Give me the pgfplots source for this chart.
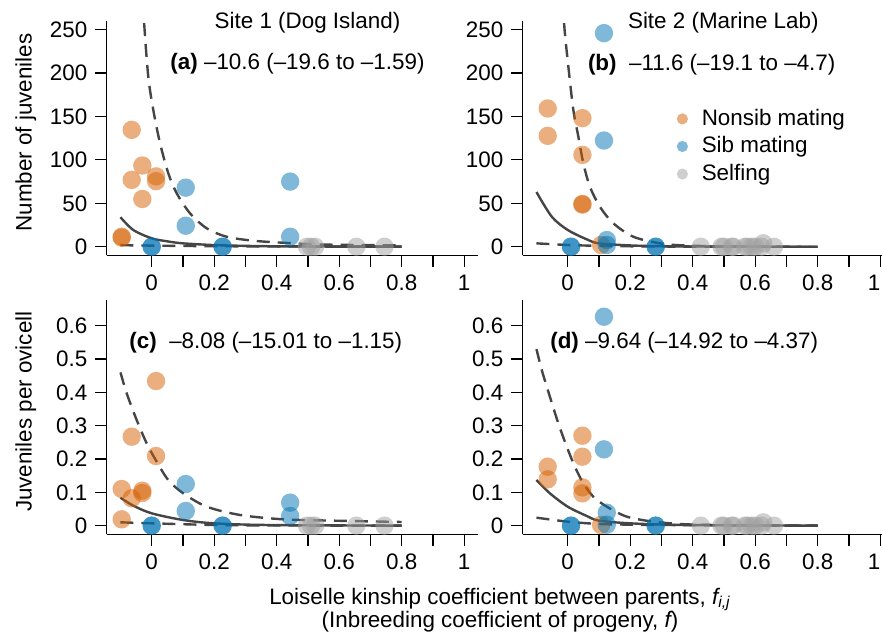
\documentclass[border=0pt]{standalone}
\usepackage{pgfplots}
\pgfplotsset{compat=1.18}
\usepackage{fontspec}
\setmainfont{Liberation Sans}
\definecolor{cNon}{HTML}{D55E00}
\definecolor{cSib}{HTML}{0072B2}
\definecolor{cSelf}{HTML}{A0A0A0}
\definecolor{cLine}{HTML}{454545}
\newcommand{\fs}{\fontsize{11.2}{13.4}\selectfont}
\pgfplotsset{
  rpanel/.style={
    scale only axis, width=185.625pt, xmin=-0.144, xmax=1.044,
    axis x line*=bottom, axis y line*=left,
    axis line style={line width=0.6pt,-},
    tick style={line width=0.6pt, black},
    minor tick style={line width=0.6pt, black},
    tick align=outside, major tick length=5.8pt, minor tick length=5.8pt,
    xtick={0,0.2,0.4,0.6,0.8,1}, minor xtick={0.1,0.3,0.5,0.7,0.9},
    /pgf/number format/assume math mode=true,
    tick label style={font=\fs},
    anchor=south west, clip=true,
  },
  rightcol/.style={xticklabels={0,0.2,0.4,0.6,0.8,\makebox[0pt][r]{1}}},
  toprow/.style={height=117.05pt, ymin=-10, ymax=259.6, ytick={0,50,100,150,200,250}},
  botrow/.style={height=116.95pt, ymin=-0.026, ymax=0.676, ytick={0,0.1,0.2,0.3,0.4,0.5,0.6}},
  pts/.style={only marks, mark=*, mark size=4.6pt, color=#1, mark options={fill=#1, draw opacity=0, fill opacity=0.5}},
  fitl/.style={cLine, line width=1.2pt, smooth, no marks},
  cil/.style={cLine, line width=1.2pt, dash pattern=on 6.5pt off 4pt, smooth, no marks},
}
\begin{document}
\fs
\begin{tikzpicture}
% ---------------- panel (a)
\begin{axis}[rpanel, toprow, at={(53.35pt,-127.7pt)}]
\addplot[pts=cNon, forget plot] coordinates {(-0.096,10.5) (-0.096,11.5) (-0.064,134.6) (-0.064,77) (-0.030,93.5) (-0.030,55) (0.014,81) (0.014,75.5)};
\addplot[pts=cSib, forget plot] coordinates {(0,0) (0,0) (0.227,0) (0.227,0) (0.109,68) (0.109,24.2) (0.443,75) (0.443,11.5)};
\addplot[pts=cSelf, forget plot] coordinates {(0.497,0) (0.51,0) (0.523,0) (0.655,0) (0.745,0)};
\addplot[cil] coordinates {(-0.035,330) (-0.0246,260) (-0.011,196) (0.005,157.7) (0.0266,119.3) (0.053,84.7) (0.08,61.6) (0.1226,38.5) (0.176,21.2) (0.24,11.5) (0.325,6.9) (0.421,4.6) (0.528,2.7) (0.65,2.0) (0.8,1.6)};
\addplot[fitl] coordinates {(-0.1,34) (-0.059,19.3) (0,9.7) (0.05,6.2) (0.1,3.9) (0.2,1.9) (0.3,1.0) (0.4,0.5) (0.6,0.15) (0.8,0.05)};
\addplot[cil] coordinates {(-0.1,1.8) (0,1.3) (0.1,0.9) (0.2,0.6) (0.4,0.3) (0.6,0.1) (0.8,0.05)};
\end{axis}
% ---------------- panel (b)
\begin{axis}[rpanel, rightcol, toprow, at={(261.35pt,-127.7pt)},
  legend style={draw=none, fill=none, at={(0.414,0.631)}, anchor=north west, inner sep=0pt, row sep=3pt, font=\fs, nodes={inner sep=0.5pt}},
  legend cell align=left]
\addlegendimage{legend image code/.code={\fill[draw=none, fill=cNon, fill opacity=0.5] (2.8pt,0pt) circle (2.8pt); \path[draw=none, fill=none] (0pt,-1pt) rectangle (12pt,1pt);}}
\addlegendentry{Nonsib mating}
\addlegendimage{legend image code/.code={\fill[draw=none, fill=cSib, fill opacity=0.5] (2.8pt,0pt) circle (2.8pt); \path[draw=none, fill=none] (0pt,-1pt) rectangle (12pt,1pt);}}
\addlegendentry{Sib mating}
\addlegendimage{legend image code/.code={\fill[draw=none, fill=cSelf, fill opacity=0.5] (2.8pt,0pt) circle (2.8pt); \path[draw=none, fill=none] (0pt,-1pt) rectangle (12pt,1pt);}}
\addlegendentry{Selfing}
\addplot[pts=cNon, forget plot] coordinates {(-0.064,159.2) (-0.064,127.7) (0.047,148.1) (0.047,105.8) (0.047,49.3) (0.047,48.5) (0.107,2)};
\addplot[pts=cSib, forget plot] coordinates {(0.116,246) (0.116,122.3) (0.125,7.7) (0.125,2) (0.0106,0) (0.0106,0) (0.2816,0) (0.2816,0)};
\addplot[pts=cSelf, forget plot] coordinates {(0.426,0) (0.492,0) (0.50,0) (0.525,0) (0.53,0) (0.567,0) (0.575,0) (0.589,0) (0.60,0) (0.62,0) (0.626,4) (0.66,0)};
\addplot[cil, forget plot] coordinates {(-0.02,330) (-0.012,259.6) (0.002,207.7) (0.018,157.7) (0.034,126.9) (0.05,96.2) (0.071,69.2) (0.103,46.1) (0.146,27) (0.21,11.5) (0.295,3.9) (0.37,1.5) (0.5,0.4) (0.65,0.1) (0.8,0)};
\addplot[fitl, forget plot] coordinates {(-0.1,63) (-0.051,34.6) (0,19.3) (0.061,8.5) (0.1,3.9) (0.2,1.5) (0.3,0.6) (0.4,0.3) (0.6,0.05) (0.8,0)};
\addplot[cil, forget plot] coordinates {(-0.1,3.9) (0,2) (0.1,1) (0.2,0.5) (0.4,0.1) (0.8,0)};
\end{axis}
% ---------------- panel (c)
\begin{axis}[rpanel, botrow, at={(53.35pt,-267.15pt)}]
\addplot[pts=cNon] coordinates {(-0.096,0.110) (-0.096,0.019) (-0.064,0.267) (-0.064,0.082) (-0.030,0.105) (-0.030,0.098) (0.014,0.434) (0.014,0.209)};
\addplot[pts=cSib] coordinates {(0,0) (0,0) (0.227,0) (0.227,0) (0.109,0.125) (0.109,0.044) (0.443,0.069) (0.443,0.029)};
\addplot[pts=cSelf] coordinates {(0.497,0) (0.51,0) (0.523,0) (0.655,0) (0.745,0)};
\addplot[cil] coordinates {(-0.1,0.46) (-0.08,0.397) (-0.048,0.317) (-0.016,0.247) (0.016,0.192) (0.053,0.137) (0.101,0.097) (0.176,0.057) (0.283,0.032) (0.421,0.019) (0.581,0.015) (0.8,0.011)};
\addplot[fitl] coordinates {(-0.1,0.084) (-0.059,0.060) (0,0.037) (0.1,0.017) (0.2,0.007) (0.37,0.002) (0.8,0)};
\addplot[cil] coordinates {(-0.1,0.010) (0,0.007) (0.2,0.002) (0.4,0.0005) (0.8,0)};
\end{axis}
% ---------------- panel (d)
\begin{axis}[rpanel, rightcol, botrow, at={(261.35pt,-267.15pt)}]
\addplot[pts=cNon] coordinates {(-0.064,0.177) (-0.064,0.139) (0.047,0.270) (0.047,0.207) (0.047,0.115) (0.047,0.097) (0.107,0.002)};
\addplot[pts=cSib] coordinates {(0.116,0.627) (0.116,0.229) (0.125,0.039) (0.125,0.003) (0.0106,0) (0.0106,0) (0.2816,0) (0.2816,0)};
\addplot[pts=cSelf] coordinates {(0.426,0) (0.492,0) (0.50,0) (0.525,0) (0.53,0) (0.567,0) (0.575,0) (0.589,0) (0.60,0) (0.62,0) (0.626,0.01) (0.66,0)};
\addplot[cil] coordinates {(-0.1,0.53) (-0.083,0.467) (-0.057,0.387) (-0.030,0.307) (-0.003,0.237) (0.023,0.177) (0.05,0.127) (0.082,0.087) (0.125,0.057) (0.189,0.027) (0.274,0.012) (0.38,0.004) (0.55,0.001) (0.8,0)};
\addplot[fitl] coordinates {(-0.1,0.137) (-0.057,0.097) (0,0.057) (0.061,0.029) (0.1,0.015) (0.2,0.007) (0.37,0.002) (0.8,0)};
\addplot[cil] coordinates {(-0.1,0.024) (0,0.012) (0.1,0.005) (0.2,0.003) (0.3,0.002) (0.8,0)};
\end{axis}
% ---------------- texts
\node[anchor=base] at (153.75pt,-14.17pt) {Site 1 (Dog Island)};
\node[anchor=base] at (361.65pt,-14.17pt) {Site 2 (Marine Lab)};
\node[anchor=base] at (148.75pt,-34.75pt) {\textbf{(a)} --10.6 (--19.6 to --1.59)};
\node[anchor=base] at (355.85pt,-35pt) {\textbf{(b)}\ \ --11.6 (--19.1 to --4.7)};
\node[anchor=base] at (132.9pt,-174.2pt) {\textbf{(c)}\ \ --8.08 (--15.01 to --1.15)};
\node[anchor=base] at (342.1pt,-174.2pt) {\textbf{(d)} --9.64 (--14.92 to --4.37)};
\node[anchor=base, rotate=90] at (15.8pt,-66.25pt) {Number of juveniles};
\node[anchor=base, rotate=90] at (15.8pt,-205.85pt) {Juveniles per ovicell};
\node[anchor=base] at (250pt,-302pt) {Loiselle kinship coefficient between parents, {\itshape f}\textsubscript{\itshape i,j}};
\node[anchor=base] at (250pt,-313.75pt) {(Inbreeding coefficient of progeny, {\itshape f})};
\pgfresetboundingbox
\path[use as bounding box] (0pt,0pt) rectangle (441pt,-317pt);
\end{tikzpicture}
\end{document}
